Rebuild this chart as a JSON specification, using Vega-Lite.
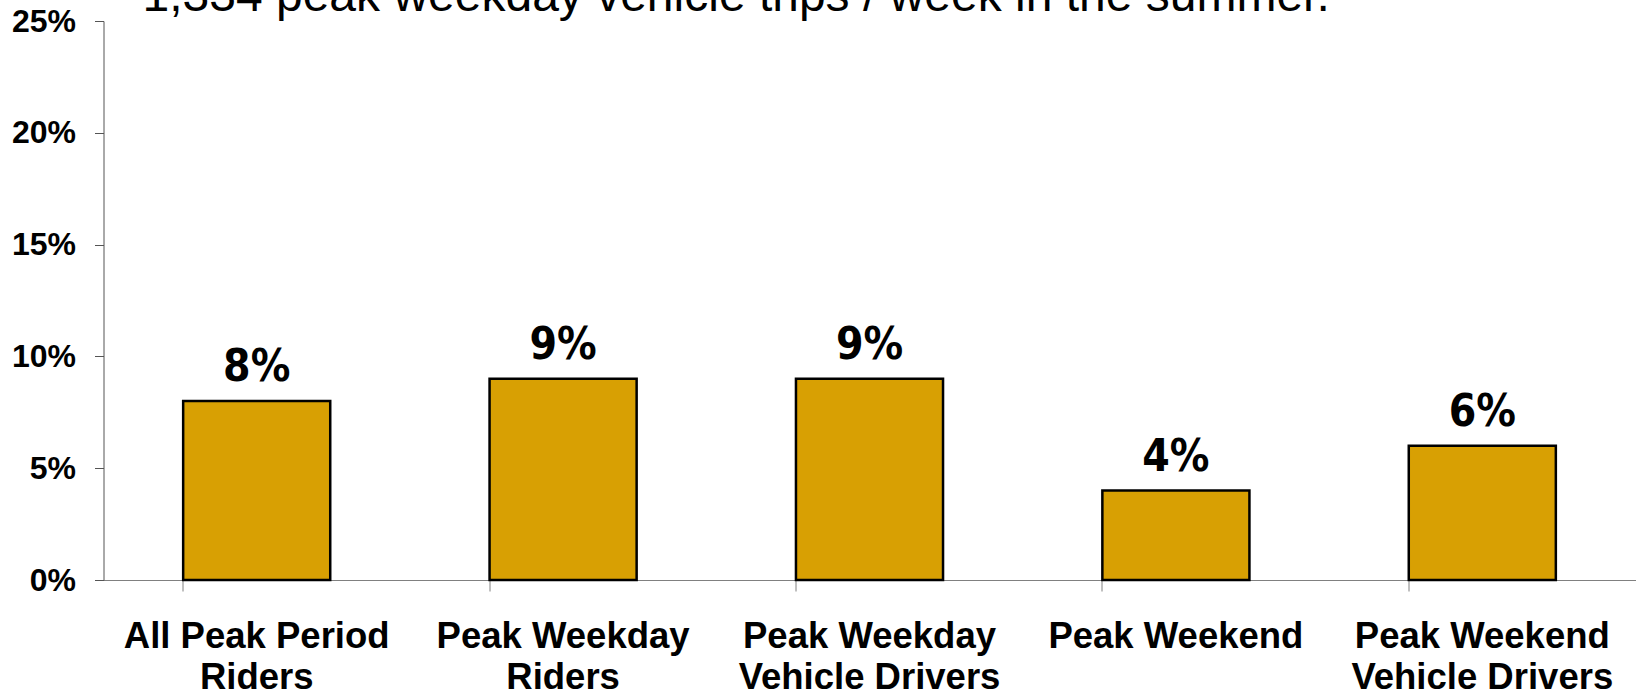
{
  "$schema": "https://vega.github.io/schema/vega-lite/v6.json",
  "autosize": {"type": "none"},
  "width": 1532,
  "height": 559,
  "padding": {"left": 103.5, "top": 21, "right": 3.5, "bottom": 114},
  "background": "white",
  "title": {
    "text": "1,334 peak weekday vehicle trips / week in the summer.",
    "anchor": "start",
    "frame": "group",
    "dx": 39,
    "offset": -54,
    "baseline": "alphabetic",
    "font": "Liberation Sans",
    "fontSize": 48,
    "fontWeight": "normal",
    "color": "black"
  },
  "data": {
    "values": [
      {"group": "All Peak Period Riders", "share": 0.08},
      {"group": "Peak Weekday Riders", "share": 0.09},
      {"group": "Peak Weekday Vehicle Drivers", "share": 0.09},
      {"group": "Peak Weekend", "share": 0.04},
      {"group": "Peak Weekend Vehicle Drivers", "share": 0.06}
    ]
  },
  "encoding": {
    "x": {
      "field": "group",
      "type": "nominal",
      "sort": null,
      "scale": {"paddingInner": 0.52, "paddingOuter": 0.26},
      "axis": {
        "title": null,
        "labelAngle": 0,
        "bandPosition": 0,
        "tickSize": 11,
        "tickColor": "#808080",
        "domainColor": "#808080",
        "labelPadding": 27,
        "labelLimit": 600,
        "labelFont": "Liberation Sans",
        "labelFontWeight": "bold",
        "labelFontSize": 36.5,
        "labelColor": "black",
        "labelLineHeight": 41,
        "labelBaseline": "top",
        "labelExpr": "datum.value == 'All Peak Period Riders' ? ['All Peak Period', 'Riders'] : datum.value == 'Peak Weekday Riders' ? ['Peak Weekday', 'Riders'] : datum.value == 'Peak Weekday Vehicle Drivers' ? ['Peak Weekday', 'Vehicle Drivers'] : datum.value == 'Peak Weekend Vehicle Drivers' ? ['Peak Weekend', 'Vehicle Drivers'] : datum.value"
      }
    },
    "y": {
      "field": "share",
      "type": "quantitative",
      "scale": {"domain": [0, 0.25], "nice": false},
      "axis": {
        "title": null,
        "grid": false,
        "values": [0, 0.05, 0.1, 0.15, 0.2, 0.25],
        "format": ".0%",
        "tickSize": 9,
        "tickColor": "#555555",
        "domainColor": "#555555",
        "labelPadding": 19,
        "labelFont": "Liberation Sans",
        "labelFontWeight": "bold",
        "labelFontSize": 32,
        "labelColor": "black"
      }
    }
  },
  "layer": [
    {
      "mark": {"type": "bar", "fill": "#D8A003", "stroke": "black", "strokeWidth": 2.5}
    },
    {
      "mark": {
        "type": "text",
        "baseline": "alphabetic",
        "dy": -20,
        "font": "DejaVu Sans Condensed, Liberation Sans",
        "fontWeight": "bold",
        "fontSize": 44,
        "color": "black"
      },
      "encoding": {
        "text": {"field": "share", "type": "quantitative", "format": ".0%"}
      }
    }
  ],
  "config": {"view": {"stroke": null}}
}
